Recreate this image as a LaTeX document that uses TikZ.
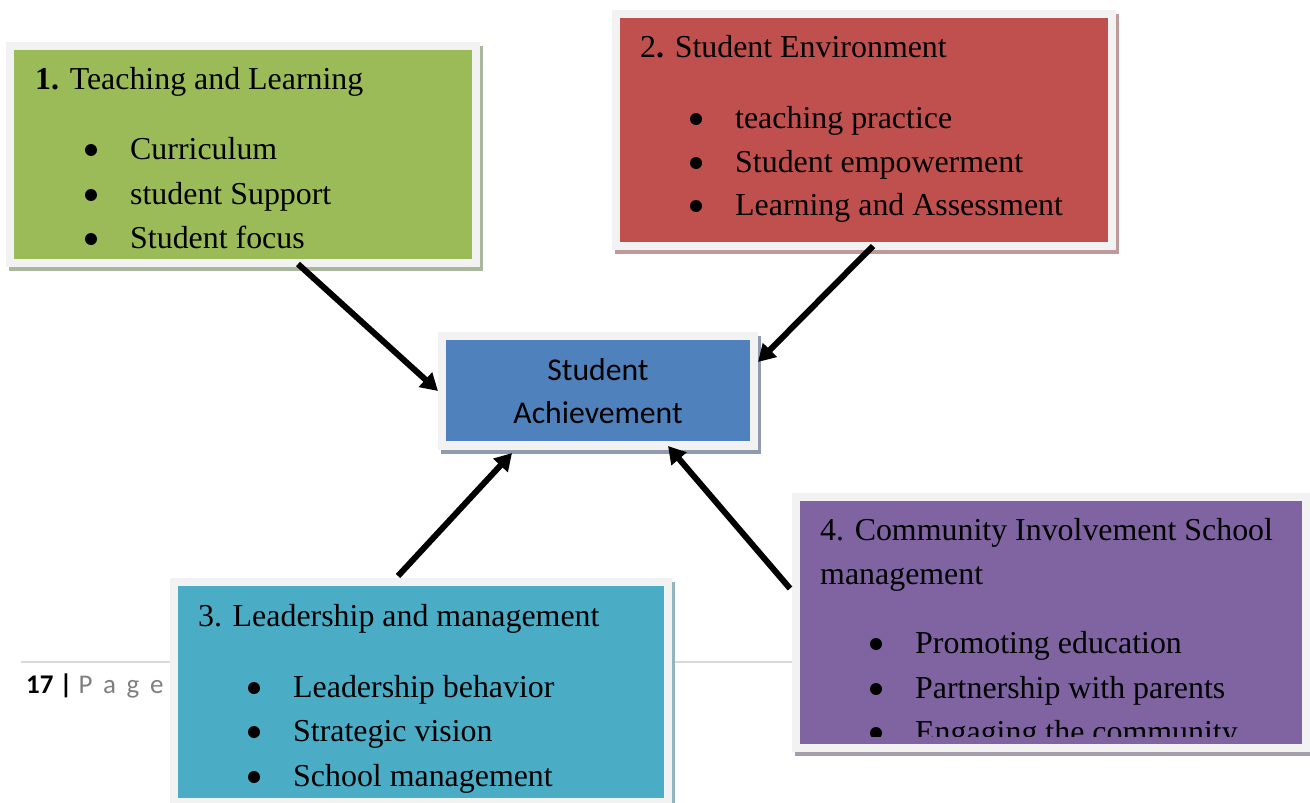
\documentclass[tikz,border=0pt]{standalone}
\usepackage{fontspec}
\setmainfont{Liberation Serif}
\newfontfamily\calibri{Carlito}
\usetikzlibrary{shadows,arrows.meta}

\definecolor{framegray}{HTML}{F2F2F2}
\definecolor{rulegray}{HTML}{D9D9D9}
\definecolor{pagegray}{HTML}{7F7F7F}
\definecolor{cgreen}{HTML}{9BBB59}
\definecolor{cred}{HTML}{C0504D}
\definecolor{cblue}{HTML}{4F81BD}
\definecolor{cteal}{HTML}{4BACC6}
\definecolor{cpurple}{HTML}{8064A2}
\definecolor{sgreen}{HTML}{A9B79A}
\definecolor{sred}{HTML}{BF9A9A}
\definecolor{sblue}{HTML}{8E9BB0}
\definecolor{steal}{HTML}{93B5BD}
\definecolor{spurple}{HTML}{A39DAD}

\begin{document}
\begin{tikzpicture}[x=1pt,y=-1pt,
  frame/.style={fill=framegray, inner sep=0pt, outer sep=0pt,
    drop shadow={fill=#1, opacity=1, shadow xshift=3pt, shadow yshift=-4pt}},
  panel/.style={fill=#1, inner sep=0pt, outer sep=0pt},
  txt/.style={anchor=base west, inner sep=0pt, font=\fontsize{31.9}{38}\selectfont},
  dot/.style={circle, fill=black, inner sep=0pt, minimum size=12pt},
  link/.style={line width=6pt, -{Triangle[length=17pt,width=19pt]}}]

\useasboundingbox (0,0) rectangle (1310,803);

% page footer
\coordinate (rl) at (21,662);
\coordinate (rr) at (792,662);
\draw[rulegray, line width=1.5pt] (rl) -- (rr);
\node[anchor=base west, inner sep=0pt, font=\calibri\fontsize{27}{32}\selectfont]
  (foot) at (26,693) {\textbf{17 |} \textcolor{pagegray}{P\, a\, g\, e}};

% 1. Teaching and Learning
\node[frame=sgreen, minimum width=474pt, minimum height=225pt] (g) at (243,154.5) {};
\node[panel=cgreen, minimum width=458pt, minimum height=209pt] (gin) at (243,154.5) {};
\node[txt] (g0) at (35,89) {\textbf{1.} Teaching and Learning};
\node[dot] (gb1) at (91,150) {};
\node[txt] (g1) at (130,159) {Curriculum};
\node[dot] (gb2) at (91,195) {};
\node[txt] (g2) at (130,204) {student Support};
\node[dot] (gb3) at (91,239) {};
\node[txt] (g3) at (130,248) {Student focus};

% 2. Student Environment
\node[frame=sred, minimum width=504pt, minimum height=240pt] (r) at (864,130) {};
\node[panel=cred, minimum width=488pt, minimum height=224pt] (rin) at (864,130) {};
\node[txt] (r0) at (640,57) {2\textbf{.} Student Environment};
\node[dot] (rb1) at (696,119) {};
\node[txt] (r1) at (735,128) {teaching practice};
\node[dot] (rb2) at (696,163) {};
\node[txt] (r2) at (735,172) {Student empowerment};
\node[dot] (rb3) at (696,206) {};
\node[txt] (r3) at (735,215) {Learning and Assessment};

% central goal
\node[frame=sblue, minimum width=320pt, minimum height=118pt] (ach) at (598,391) {};
\node[panel=cblue, minimum width=304pt, minimum height=101pt] (achin) at (598,390.5) {};
\node[anchor=base, inner sep=0pt, font=\calibri\fontsize{31.7}{38}\selectfont] (ach1) at (598,380) {Student};
\node[anchor=base, inner sep=0pt, font=\calibri\fontsize{31.7}{38}\selectfont] (ach2) at (598,423) {Achievement};

% 3. Leadership and management
\node[frame=steal, minimum width=502pt, minimum height=228pt] (t) at (421,692) {};
\node[panel=cteal, minimum width=486pt, minimum height=212pt] (tin) at (421,692) {};
\node[txt] (t0) at (198,626) {3. Leadership and management};
\node[dot] (tb1) at (254,688) {};
\node[txt] (t1) at (293,697) {Leadership behavior};
\node[dot] (tb2) at (254,732) {};
\node[txt] (t2) at (293,741) {Strategic vision};
\node[dot] (tb3) at (254,777) {};
\node[txt] (t3) at (293,786) {School management};

% 4. Community Involvement
\node[frame=spurple, minimum width=519pt, minimum height=259pt] (p) at (1051.5,622.5) {};
\node[panel=cpurple, minimum width=502pt, minimum height=243pt] (pin) at (1051,622.5) {};
\begin{scope}
  \clip (800,501) rectangle (1302,736);
  \node[txt] (p0) at (820,540) {4. Community Involvement School};
  \node[txt] (p0b) at (820,584) {management};
  \node[dot] (pb1) at (876,644) {};
  \node[txt] (p1) at (915,653) {Promoting education};
  \node[dot] (pb2) at (876,689) {};
  \node[txt] (p2) at (915,698) {Partnership with parents};
  \node[dot] (pb3) at (876,733) {};
  \node[txt] (p3) at (915,742) {Engaging the community};
\end{scope}

% connectors
\draw[link] ([xshift=55pt,yshift=3pt]g.south) -- (ach.west);
\draw[link] ([xshift=9pt,yshift=4pt]r.south) -- ([yshift=29pt]ach.east);
\draw[link] ([xshift=-23pt,yshift=2pt]t.north) -- ([xshift=-86pt,yshift=-3pt]ach.south);
\draw[link] ([xshift=-2pt,yshift=34pt]p.west) -- ([xshift=70pt,yshift=4pt]ach.south);

\end{tikzpicture}
\end{document}
